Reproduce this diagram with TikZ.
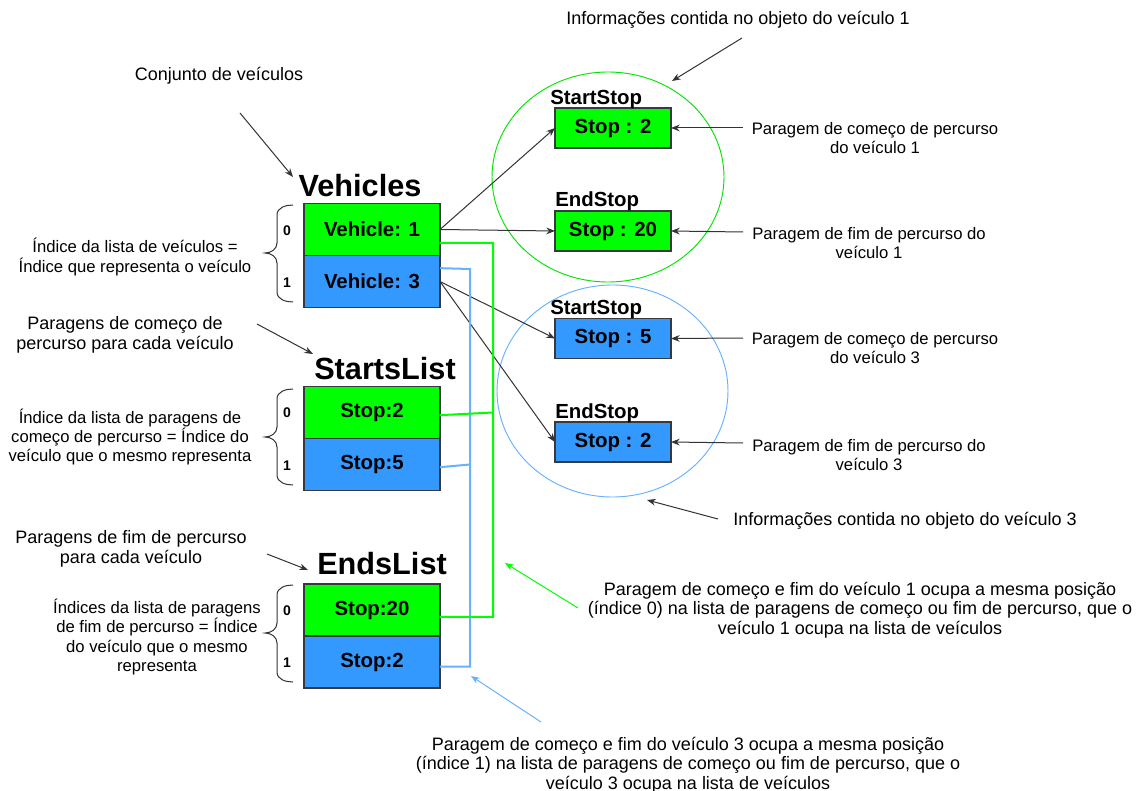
\documentclass[tikz,border=0pt]{standalone}
\usepackage{fontspec}
\setmainfont{Liberation Sans}
\usepackage{tikz}
\usetikzlibrary{positioning, arrows.meta}
\usepackage{xcolor}
\definecolor{vehGreen}{RGB}{0, 255, 0}
\definecolor{vehBlue}{RGB}{51, 153, 255}
\definecolor{linkBlue}{RGB}{102, 178, 255}
\definecolor{boxLine}{RGB}{54, 57, 61}
\definecolor{ptrGray}{RGB}{51, 51, 51}

% curly bracket left of a list: top, bottom, tip
\newcommand{\idxbrace}[3]{%
  \draw[brc] (293,#1) to[out=180,in=90] (277,#1+10) -- (277,#3-10)
    to[out=-90,in=0] (265,#3) to[out=0,in=90] (277,#3+10)
    -- (277,#2-10) to[out=-90,in=180] (293,#2);}

\begin{document}
\begin{tikzpicture}[x=0.75pt, y=-0.75pt, >={Stealth[length=6.5pt,width=5pt]},
  cell/.style={draw=boxLine, line width=0.9pt, outer sep=0pt, minimum width=102pt,
    minimum height=39pt, font=\fontsize{15.3}{18}\selectfont\bfseries},
  stopbox/.style={cell, minimum width=87pt, minimum height=30pt},
  head/.style={anchor=base, font=\fontsize{23}{26}\selectfont\bfseries},
  tag/.style={anchor=base west, inner sep=0pt, font=\fontsize{15.3}{18}\selectfont\bfseries},
  idx/.style={font=\fontsize{10.5}{12}\selectfont\bfseries},
  note/.style={align=center, inner sep=0pt, font=\fontsize{12.5}{14.3}\selectfont},
  bignote/.style={align=center, inner sep=0pt, font=\fontsize{13.5}{14.5}\selectfont},
  ptr/.style={->, ptrGray, line width=0.75pt},
  brc/.style={ptrGray, line width=0.75pt},
  glink/.style={vehGreen, line width=1.5pt},
  blink/.style={linkBlue, line width=1.5pt}]
  \path[use as bounding box, fill=white] (0,0) rectangle (1144,791);

  % Vehicles list
  \node[head] (vhead) at (360,197) {Vehicles};
  \node[cell, fill=vehGreen] (v1) at (372,229.5) {Vehicle: 1};
  \node[cell, fill=vehBlue, below=0pt of v1] (v3) {Vehicle: 3};
  \idxbrace{205}{302}{253}
  \node[idx] (v1i) at (287,231) {0};
  \node[idx] (v3i) at (287,283) {1};

  % StartsList
  \node[head] (shead) at (385,379) {StartsList};
  \node[cell, fill=vehGreen] (s2) at (372,412.5) {Stop:2};
  \node[cell, fill=vehBlue, below=0pt of s2] (s5) {Stop:5};
  \idxbrace{389}{485}{437}
  \node[idx] (s2i) at (287,413) {0};
  \node[idx] (s5i) at (287,466) {1};

  % EndsList
  \node[head] (ehead) at (382,574) {EndsList};
  \node[cell, fill=vehGreen] (e20) at (372,610) {Stop:20};
  \node[cell, fill=vehBlue, below=0pt of e20] (e2) {Stop:2};
  \idxbrace{585}{682}{633}
  \node[idx] (e20i) at (287,611) {0};
  \node[idx] (e2i) at (287,663) {1};

  % objects of vehicle 1 and 3
  \draw[vehGreen!90!black, line width=0.7pt] (608,177) ellipse [x radius=116, y radius=105];
  \draw[linkBlue, line width=0.7pt] (612.5,391) ellipse [x radius=115.5, y radius=106];
  \node[stopbox, fill=vehGreen] (ss1) at (613,128) {Stop : 2};
  \node[stopbox, fill=vehGreen] (es1) at (613,231) {Stop : 20};
  \node[stopbox, fill=vehBlue] (ss3) at (613,338.5) {Stop : 5};
  \node[stopbox, fill=vehBlue] (es3) at (613,442) {Stop : 2};
  \node[tag] (ss1t) at (550,105) {StartStop};
  \node[tag] (es1t) at (555,207) {EndStop};
  \node[tag] (ss3t) at (550,315) {StartStop};
  \node[tag] (es3t) at (555,418) {EndStop};

  \draw[ptr] (v1.east) -- (ss1.west);
  \draw[ptr] (v1.east) -- (es1.west);
  \draw[ptr] (v3.east) -- (ss3.west);
  \draw[ptr] (v3.east) -- (es3.west);

  % index links
  \coordinate (gtop) at (493,243);
  \coordinate (btop) at (470,269);
  \draw[blink] ([yshift=10pt]v3.east) -- (btop) |- ([yshift=-3.5pt]e2.east);
  \draw[blink] ([yshift=-2pt]s5.east) -- (s5.east -| btop);
  \draw[glink] ([yshift=-10pt]v1.east) -- (gtop) |- ([yshift=-5.2pt]e20.east);
  \draw[glink] ([yshift=-2pt]s2.east) -- (s2.east -| gtop);

  % notes on the left
  \node[bignote] (conj) at (219,76) {Conjunto de veículos};
  \node[note] (vnote) at (135,257) {Índice da lista de veículos =\\Índice que representa o veículo};
  \node[bignote] (snote) at (125,335) {Paragens de começo de\\percurso para cada veículo};
  \node[note] (sidx) at (130,437) {Índice da lista de paragens de\\começo de percurso = Índice do\\veículo que o mesmo representa};
  \node[bignote] (enote) at (131,549) {Paragens de fim de percurso\\para cada veículo};
  \node[note] (eidx) at (157,637) {Índices da lista de paragens\\de fim de percurso = Índice\\do veículo que o mesmo\\representa};
  \coordinate (conjA) at (240,113);  \coordinate (conjB) at (293,177);
  \coordinate (snoteA) at (257,324); \coordinate (snoteB) at (313,354);
  \coordinate (enoteA) at (267,554); \coordinate (enoteB) at (308,570);
  \draw[ptr] (conjA) -- (conjB);
  \draw[ptr] (snoteA) -- (snoteB);
  \draw[ptr] (enoteA) -- (enoteB);

  % notes on the right
  \node[bignote] (info1) at (738,20) {Informações contida no objeto do veículo 1};
  \node[note] (ss1n) at (875,138) {Paragem de começo de percurso\\do veículo 1};
  \node[note] (es1n) at (869,243) {Paragem de fim de percurso do\\veículo 1};
  \node[note] (ss3n) at (875,348) {Paragem de começo de percurso\\do veículo 3};
  \node[note] (es3n) at (869,455) {Paragem de fim de percurso do\\veículo 3};
  \node[bignote] (info3) at (905,521) {Informações contida no objeto do veículo 3};
  \coordinate (info1A) at (742,38);  \coordinate (info1B) at (672,81);
  \coordinate (info3A) at (718,519); \coordinate (info3B) at (647,500);
  \coordinate (ss1A) at (743,128);   \coordinate (es1A) at (743,232);
  \coordinate (ss3A) at (743,338);   \coordinate (es3A) at (743,443);
  \draw[ptr] (info1A) -- (info1B);
  \draw[ptr] (info3A) -- (info3B);
  \draw[ptr] (ss1A) -- (ss1.east);
  \draw[ptr] (es1A) -- (es1.east);
  \draw[ptr] (ss3A) -- (ss3.east);
  \draw[ptr] (es3A) -- (es3.east);

  % same position notes
  \node[bignote] (same1) at (860,610) {Paragem de começo e fim do veículo 1 ocupa a mesma posição\\(índice 0) na lista de paragens de começo ou fim de percurso, que o\\veículo 1 ocupa na lista de veículos};
  \node[bignote] (same3) at (688,765) {Paragem de começo e fim do veículo 3 ocupa a mesma posição\\(índice 1) na lista de paragens de começo ou fim de percurso, que o\\veículo 3 ocupa na lista de veículos};
  \coordinate (same1A) at (578,608); \coordinate (same1B) at (505,563);
  \coordinate (same3A) at (541,722); \coordinate (same3B) at (471,676);
  \draw[->, vehGreen, line width=0.75pt] (same1A) -- (same1B);
  \draw[->, linkBlue, line width=0.75pt] (same3A) -- (same3B);
\end{tikzpicture}
\end{document}
